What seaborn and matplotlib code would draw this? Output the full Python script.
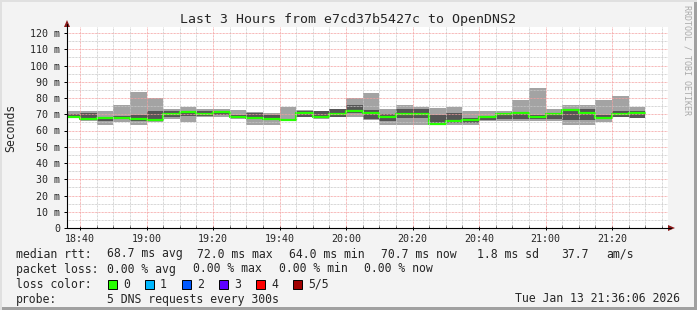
import matplotlib
matplotlib.use("Agg")
import matplotlib.pyplot as plt
import seaborn as sns
import numpy as np
import pandas as pd
from matplotlib.patches import Rectangle, Polygon
from matplotlib.lines import Line2D

# ---------------- data ----------------
slot_times = ["18:35", "18:40", "18:45", "18:50", "18:55", "19:00", "19:05", "19:10",
              "19:15", "19:20", "19:25", "19:30", "19:35", "19:40", "19:45", "19:50",
              "19:55", "20:00", "20:05", "20:10", "20:15", "20:20", "20:25", "20:30",
              "20:35", "20:40", "20:45", "20:50", "20:55", "21:00", "21:05", "21:10",
              "21:15", "21:20", "21:25"]
data_end = "21:30"
# smoke: outer band (min..max ping), inner band, median (ms)
smoke_lo  = [67.5, 66.1, 63.6, 65.3, 63.6, 65.3, 66.9, 65.3, 68.5, 68.5, 66.9, 63.6,
             63.6, 65.7, 68.1, 67.3, 68.1, 68.5, 66.5, 63.6, 63.6, 63.6, 63.2, 63.6,
             63.6, 66.1, 66.1, 65.7, 66.1, 66.1, 63.6, 63.6, 65.3, 68.1, 67.7]
inner_lo  = [68.0, 67.0, 65.7, 67.0, 66.0, 66.0, 68.5, 69.0, 69.0, 69.5, 67.5, 67.0,
             66.5, 66.0, 68.5, 67.5, 68.5, 71.0, 67.0, 66.0, 68.0, 68.0, 63.5, 64.5,
             64.5, 66.5, 67.3, 67.3, 67.3, 67.0, 66.5, 66.5, 67.7, 68.5, 68.0]
median    = [68.3, 67.3, 67.6, 67.9, 66.8, 66.3, 70.2, 71.2, 70.0, 71.3, 68.4, 67.4,
             67.0, 66.5, 71.0, 68.1, 70.0, 72.1, 71.0, 68.2, 70.0, 70.0, 64.2, 65.6,
             66.6, 68.3, 70.0, 71.0, 68.3, 70.0, 72.4, 71.0, 68.0, 70.0, 71.0]
inner_hi  = [70.0, 71.0, 68.0, 68.8, 69.8, 72.2, 72.2, 72.2, 72.2, 72.2, 69.8, 70.6,
             69.8, 67.0, 72.2, 71.8, 73.0, 76.0, 72.6, 70.0, 73.0, 73.5, 69.4, 70.6,
             67.7, 68.5, 70.6, 71.5, 69.8, 70.2, 72.6, 73.0, 69.8, 71.8, 72.2]
smoke_hi  = [72.2, 72.2, 72.2, 75.7, 84.0, 80.0, 73.0, 74.7, 73.0, 73.0, 72.6, 71.3,
             70.6, 74.7, 72.5, 72.2, 73.5, 80.0, 83.0, 73.0, 75.5, 74.7, 73.9, 74.7,
             72.2, 72.2, 72.2, 79.0, 86.0, 73.5, 76.0, 76.0, 79.0, 81.5, 74.7]

ytick_vals = [0, 10, 20, 30, 40, 50, 60, 70, 80, 90, 100, 110, 120]
ytick_labels = ["0", "10 m", "20 m", "30 m", "40 m", "50 m", "60 m", "70 m", "80 m",
                "90 m", "100 m", "110 m", "120 m"]
xtick_labels = ["18:40", "19:00", "19:20", "19:40", "20:00", "20:20", "20:40", "21:00", "21:20"]
view_start, view_end = "18:36:05", "21:36:50"

title = "Last 3 Hours from e7cd37b5427c to OpenDNS2"
rtt_items = ["median rtt:", "68.7 ms avg", "72.0 ms max", "64.0 ms min", "70.7 ms now",
             "1.8 ms sd", "37.7", "am/s"]
loss_items = ["packet loss:", "0.00 % avg", "0.00 % max", "0.00 % min", "0.00 % now"]
loss_labels = ["0", "1", "2", "3", "4", "5/5"]
loss_colors = ["#26ff00", "#00b8ff", "#0059ff", "#5e00ff", "#ff0000", "#a00000"]
probe_text = "5 DNS requests every 300s"
stamp_text = "Tue Jan 13 21:36:06 2026"


def to_min(s):
    p = [int(v) for v in s.split(":")]
    while len(p) < 3:
        p.append(0)
    return (p[0] - 18) * 60 + p[1] + p[2] / 60.0


# ---------------- figure ----------------
W, H = 697, 310
sns.set_theme(style="white")
plt.rcParams["font.family"] = ["DejaVu Sans Mono", "DejaVu Sans"]

fig = plt.figure(figsize=(W / 100, H / 100), dpi=100)
fig.patch.set_facecolor("#f3f3f3")


def fx(px):
    return px / W


def fy(py):
    return 1 - py / H


left, right, top, bottom = 67, 668, 27, 228
ax = fig.add_axes([fx(left), fy(bottom), (right - left) / W, (bottom - top) / H])
ax.set_facecolor("white")

xs = [to_min(t) for t in slot_times] + [to_min(data_end)]


def ext(v):
    return list(v) + [v[-1]]


df = pd.DataFrame({"t": xs, "median": ext(median)})
ax.fill_between(xs, ext(smoke_lo), ext(smoke_hi), step="post", color="#a3a3a3", lw=0, zorder=2)
ax.fill_between(xs, ext(inner_lo), ext(inner_hi), step="post", color="#555555", lw=0, zorder=3)
sns.lineplot(data=df, x="t", y="median", drawstyle="steps-post", color="#26ff00",
             lw=1.6, ax=ax, zorder=4, legend=False)

x0, x1 = to_min(view_start), to_min(view_end)
ymax = (bottom - top) / 1.625
ax.set_xlim(x0, x1)
ax.set_ylim(0, ymax)

# grid (dotted, drawn over data like rrdtool)
dot = (0, (0.72, 0.72))
major_x = [to_min(t) for t in xtick_labels]
for m in np.arange(40, x1, 5):
    if any(abs(m - mx) < 1e-6 for mx in major_x):
        continue
    ax.axvline(m, color="#c8c8c8", lw=0.72, ls=dot, zorder=5)
for y in np.arange(5, 121, 10):
    ax.axhline(y, color="#c8c8c8", lw=0.72, ls=dot, zorder=5)
for m in major_x:
    ax.axvline(m, color="#f4a0a0", lw=0.72, ls=dot, zorder=6)
for y in ytick_vals[1:]:
    ax.axhline(y, color="#f4a0a0", lw=0.72, ls=dot, zorder=6)

ax.set_yticks(ytick_vals)
ax.set_yticklabels(ytick_labels)
ax.set_xticks(major_x)
ax.set_xticklabels(xtick_labels)
ax.set_xticks(np.arange(40, x1, 5), minor=True)
ax.tick_params(axis="y", which="major", length=2, width=0.72, pad=3, labelsize=7.2,
               color="black", direction="out", left=True)
ax.tick_params(axis="x", which="major", length=3, width=0.72, pad=3, labelsize=7.2,
               color="black", direction="inout", bottom=True)
ax.tick_params(axis="x", which="minor", length=2, width=0.72, direction="in", bottom=True)
for lab in ax.get_xticklabels() + ax.get_yticklabels():
    lab.set_family("DejaVu Sans Mono")
ax.set_xlabel("")
ax.set_ylabel("")
for s in ["top", "right", "left", "bottom"]:
    ax.spines[s].set_visible(False)

# axes lines with arrows
fig.add_artist(Line2D([fx(left), fx(left)], [fy(bottom), fy(24)], color="black", lw=0.8))
fig.add_artist(Line2D([fx(left), fx(671)], [fy(bottom), fy(bottom)], color="black", lw=0.8))
fig.add_artist(Polygon([[fx(left), fy(20)], [fx(left - 3), fy(27)], [fx(left + 3), fy(27)]],
                       closed=True, color="#8b1a1a", lw=0))
fig.add_artist(Polygon([[fx(675), fy(bottom)], [fx(668), fy(bottom - 3)], [fx(668), fy(bottom + 3)]],
                       closed=True, color="#8b1a1a", lw=0))

# title & axis label
fig.text(fx(348), fy(19), title, ha="center", va="center", fontsize=9.5, family="DejaVu Sans Mono")
fig.text(fx(11), fy(128), "Seconds", rotation=90, ha="center", va="center", fontsize=8.3,
         family="DejaVu Sans Mono")
fig.text(fx(687.5), fy(5), "RRDTOOL / TOBI OETIKER", rotation=270, ha="center", va="top",
         fontsize=6, color="#aaaaaa", family="DejaVu Sans Mono")

# legend
fs = 8.3
rtt_x = [16, 107, 197, 289, 381, 477, 561, 606]
loss_x = [16, 107, 193, 279, 364]
for txt, px in zip(rtt_items, rtt_x):
    fig.text(fx(px), fy(254), txt, ha="left", va="center", fontsize=fs, family="DejaVu Sans Mono")
for txt, px in zip(loss_items, loss_x):
    fig.text(fx(px), fy(269), txt, ha="left", va="center", fontsize=fs, family="DejaVu Sans Mono")
fig.text(fx(16), fy(284), "loss color:", ha="left", va="center", fontsize=fs, family="DejaVu Sans Mono")
sw_x = [108, 145, 182, 219, 256, 293]
for lab, col, px in zip(loss_labels, loss_colors, sw_x):
    fig.add_artist(Rectangle((fx(px), fy(288.5)), 9 / W, 9 / H, facecolor=col,
                             edgecolor="black", lw=0.7))
    fig.text(fx(px + 15), fy(284), lab, ha="left", va="center", fontsize=fs, family="DejaVu Sans Mono")
fig.text(fx(16), fy(299), "probe:", ha="left", va="center", fontsize=fs, family="DejaVu Sans Mono")
fig.text(fx(107), fy(299), probe_text, ha="left", va="center", fontsize=fs,
         family="DejaVu Sans Mono")
fig.text(fx(680), fy(299), stamp_text, ha="right", va="center", fontsize=fs,
         family="DejaVu Sans Mono")

# 3D-ish border
fig.add_artist(Rectangle((fx(694), 0), 3 / W, 1, facecolor="#a0a0a0", lw=0))
fig.add_artist(Rectangle((0, 0), 1, 3 / H, facecolor="#a0a0a0", lw=0))
fig.add_artist(Rectangle((0, fy(2)), 1, 2 / H, facecolor="#e0e0e0", lw=0))
fig.add_artist(Rectangle((0, 0), 2 / W, 1, facecolor="#e0e0e0", lw=0))

fig.savefig("out.png", dpi=100, facecolor=fig.get_facecolor())
